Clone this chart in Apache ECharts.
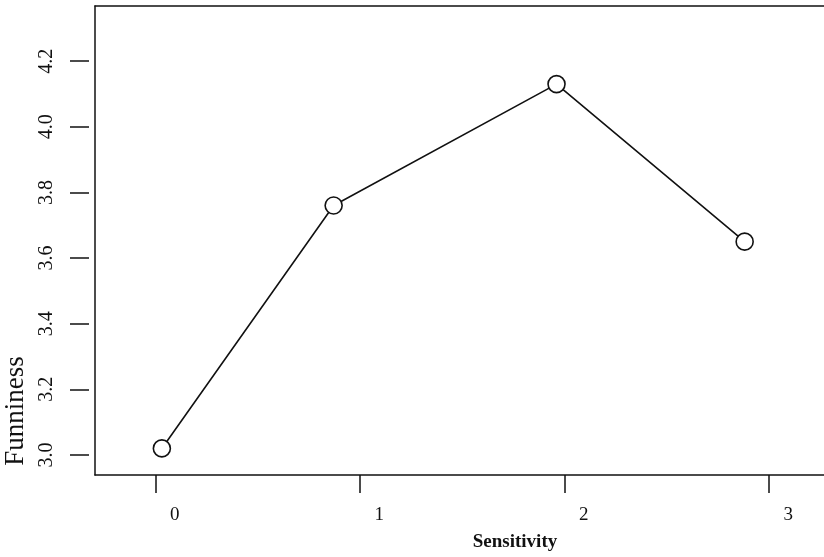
<!DOCTYPE html>
<html><head><meta charset="utf-8">
<script src="https://cdn.jsdelivr.net/npm/echarts@6/dist/echarts.min.js"></script>
<style>html,body{margin:0;padding:0;background:#fff}#c{width:824px;height:557px}</style>
</head><body><div id="c"></div>
<script>
const sensitivity = [0.03, 0.87, 1.96, 2.88];
const funniness = [3.02, 3.76, 4.13, 3.65];
const xTickValues = [0, 1, 2, 3];
const yTickValues = [3.0, 3.2, 3.4, 3.6, 3.8, 4.0, 4.2];
const xTitle = 'Sensitivity';
const yTitle = 'Funniness';

const ink = '#111';
const serif = '"Liberation Serif", "DejaVu Serif", serif';
const X_MIN = -0.297, X_MAX = 3.268, Y_MIN = 2.939, Y_MAX = 4.368;

const chart = echarts.init(document.getElementById('c'), null, {renderer: 'canvas'});
chart.setOption({
  animation: false,
  backgroundColor: '#fff',
  grid: {left: 95, top: 6, right: 0, bottom: 82},
  xAxis: [{
    type: 'value', position: 'bottom', min: X_MIN, max: X_MAX,
    splitLine: {show: false},
    axisLine: {show: true, onZero: false, lineStyle: {color: ink, width: 1.5}},
    axisTick: {show: true, length: 18, customValues: xTickValues, lineStyle: {color: ink, width: 1.5}},
    axisLabel: {show: true, margin: 31, customValues: xTickValues, color: ink,
      fontFamily: serif, fontSize: 19, padding: [0, 0, 0, 38], formatter: v => String(v)}
  }, {
    type: 'value', position: 'top', min: X_MIN, max: X_MAX,
    splitLine: {show: false},
    axisLine: {show: true, onZero: false, lineStyle: {color: ink, width: 1.5}},
    axisTick: {show: false}, axisLabel: {show: false}
  }],
  yAxis: [{
    type: 'value', position: 'left', offset: 6, min: Y_MIN, max: Y_MAX,
    splitLine: {show: false},
    axisLine: {show: false, onZero: false},
    axisTick: {show: true, length: 19, customValues: yTickValues, lineStyle: {color: ink, width: 1.5}},
    axisLabel: {show: true, rotate: 90, margin: 32, customValues: yTickValues, color: ink,
      fontFamily: serif, fontSize: 20, formatter: v => v.toFixed(1)}
  }, {
    type: 'value', position: 'left', offset: 0, min: Y_MIN, max: Y_MAX,
    splitLine: {show: false},
    axisLine: {show: true, onZero: false, lineStyle: {color: ink, width: 1.5}},
    axisTick: {show: false}, axisLabel: {show: false}
  }],
  graphic: [
    {type: 'text', x: 16, y: 411, rotation: Math.PI / 2,
     style: {text: yTitle, fill: ink, font: '27px ' + serif, textAlign: 'center', textVerticalAlign: 'middle'}},
    {type: 'text', x: 515, y: 542,
     style: {text: xTitle, fill: ink, font: 'bold 19px ' + serif, textAlign: 'center', textVerticalAlign: 'middle'}}
  ],
  series: [{
    type: 'line', xAxisIndex: 0, yAxisIndex: 0,
    data: sensitivity.map((x, i) => [x, funniness[i]]),
    symbol: 'circle', symbolSize: 17, showSymbol: true,
    lineStyle: {color: ink, width: 1.6},
    itemStyle: {color: '#fff', borderColor: ink, borderWidth: 1.6},
    z: 3
  }]
});
</script></body></html>
